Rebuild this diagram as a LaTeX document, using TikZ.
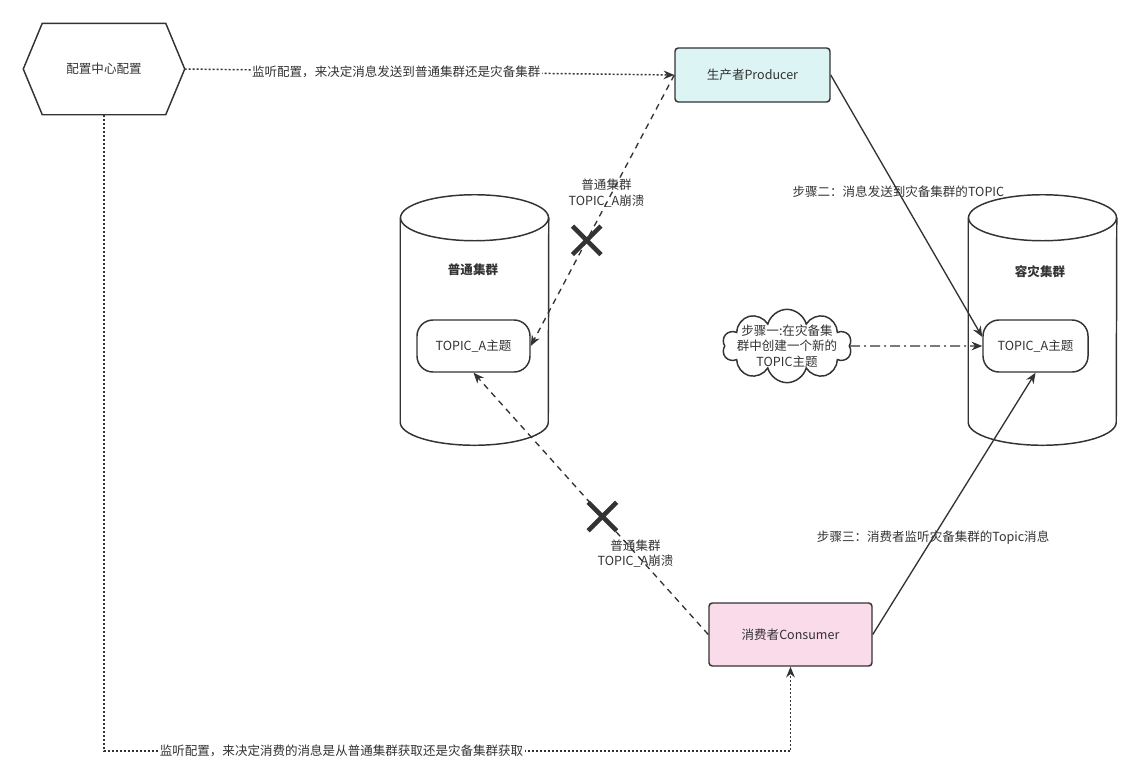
\documentclass[tikz,border=0pt]{standalone}
\usepackage{fontspec}
\setmainfont{Noto Sans CJK SC}
\usepackage{tikz}
\usetikzlibrary{positioning,arrows.meta,shapes.symbols,shapes.misc}
\definecolor{linegray}{HTML}{333333}
\definecolor{prodfill}{HTML}{DCF5F4}
\definecolor{consfill}{HTML}{F9DBEA}

\begin{document}
\begin{tikzpicture}[x=0.75pt,y=-0.75pt,font=\fontsize{9.4}{11.6}\selectfont,
    >={Stealth[length=8pt,width=6.5pt]}]
    \tikzstyle{box}=[draw=linegray, line width=1.1pt, rounded corners=2.5pt, text=linegray]
    \tikzstyle{topic}=[draw=linegray, line width=1.1pt, rounded corners=12pt, minimum height=39pt, text=linegray]
    \tikzstyle{cluster}=[minimum width=111pt, minimum height=187.5pt, inner sep=0pt]
    \tikzstyle{title}=[text=linegray, font=\fontsize{9.4}{11.6}\selectfont\bfseries]
    \tikzstyle{crossmark}=[cross out, draw=linegray, solid, line width=3.4pt, minimum size=18pt, inner sep=0pt]
    \tikzstyle{cfgline}=[draw=linegray, line width=1.1pt, dash pattern=on 1.5pt off 1.5pt, ->]
    \tikzstyle{crashline}=[draw=linegray, line width=1pt, dash pattern=on 4.5pt off 3.75pt, ->]
    \tikzstyle{stepline}=[draw=linegray, line width=1pt, ->]
    \tikzstyle{note}=[text=linegray, align=center, inner sep=1pt]

    \useasboundingbox (0,0) rectangle (1141,776);

    \node[box, draw=none, minimum width=120pt, minimum height=67.5pt] (config) at (104,69) {配置中心配置};
    \draw[linegray, line width=1.1pt] (config.west) -- ([xshift=14.25pt]config.north west) -- ([xshift=-14.25pt]config.north east) -- (config.east) -- ([xshift=-14.25pt]config.south east) -- ([xshift=14.25pt]config.south west) -- cycle;

    \node[box, fill=prodfill, minimum width=116.25pt, minimum height=40.5pt] (producer) at (752.5,75) {生产者Producer};
    \node[box, fill=consfill, minimum width=122.25pt, minimum height=47.25pt] (consumer) at (790.5,634.5) {消费者Consumer};

    % clusters
    \node[cluster] (normal) at (474.5,320) {};
    \node[cluster] (dr) at (1042.5,320) {};
    \foreach \c in {normal,dr} {
        \draw[linegray, line width=1.1pt, fill=white] ([yshift=-17.25pt]\c.north) ellipse [x radius=55.5pt, y radius=17.25pt];
        \draw[linegray, line width=1.1pt] ([yshift=-17.25pt]\c.north west) -- ([yshift=17.25pt]\c.south west) arc [start angle=180, end angle=360, x radius=55.5pt, y radius=17.25pt] -- ([yshift=-17.25pt]\c.north east);
    }
    \node[title] (normaltitle) at (473,270) {普通集群};
    \node[title] (drtitle) at (1040,272) {容灾集群};
    \node[topic, minimum width=84.75pt] (ntopic) at (473.5,346) {TOPIC\_A主题};
    \node[topic, minimum width=78.75pt] (dtopic) at (1035.5,346) {TOPIC\_A主题};

    \node[cloud, cloud puffs=10, aspect=1.8, draw=linegray, line width=1.1pt, minimum width=97pt, minimum height=55pt, inner sep=0pt,
        label={[note]center:{步骤一:在灾备集\\群中创建一个新的\\TOPIC主题}}] (newtopic) at (787,346) {};

    % config lines
    \draw[cfgline] (config.east) -- node[note, fill=white, pos=0.432] (sendnote) {监听配置，来决定消息发送到普通集群还是灾备集群} (producer.west);
    \coordinate (cfgturn) at (790.5,751);
    \draw[cfgline] (config.south) |- node[note, fill=white, pos=0.673] (consumenote) {监听配置，来决定消费的消息是从普通集群获取还是灾备集群获取} (cfgturn) -- (consumer.south);

    % broken links
    \draw[crashline] (producer.west) -- node[crossmark, pos=0.61] (crossup) {} node[note, pos=0.435, xshift=-4pt] (crashup) {普通集群\\TOPIC\_A崩溃} (ntopic.east);
    \draw[crashline] (consumer.west) -- node[crossmark, pos=0.451] (crossdown) {} node[note, pos=0.31] (crashdown) {普通集群\\TOPIC\_A崩溃} (ntopic.south);

    % steps
    \draw[linegray, line width=1.1pt, dash pattern=on 7.5pt off 3pt on 1.5pt off 3pt, ->] (newtopic) -- (dtopic);
    \draw[stepline] (producer.east) -- node[note, pos=0.446] (step2) {步骤二：消息发送到灾备集群的TOPIC} ([yshift=6.75pt]dtopic.west);
    \draw[stepline] (consumer.east) -- node[note, pos=0.371] (step3) {步骤三：消费者监听灾备集群的Topic消息} (dtopic.south);
\end{tikzpicture}
\end{document}
